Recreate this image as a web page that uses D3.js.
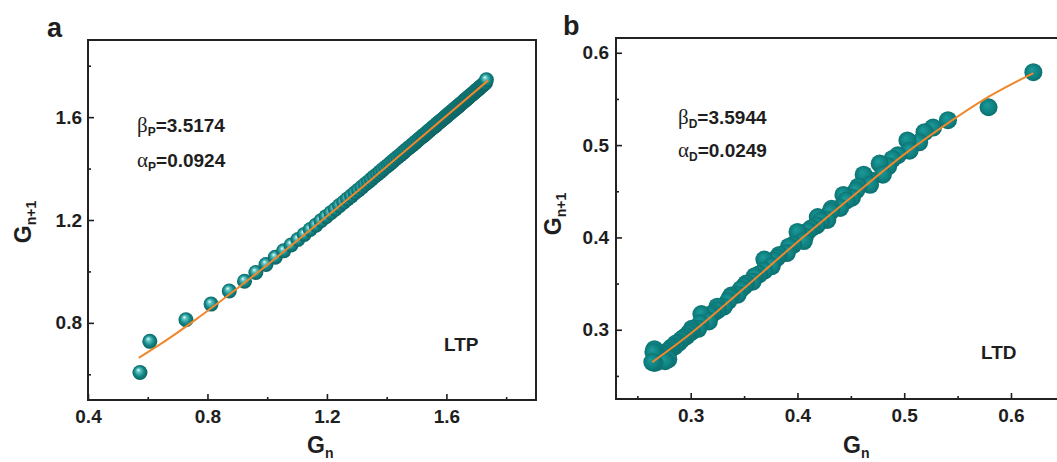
<!DOCTYPE html>
<html>
<head>
<meta charset="utf-8">
<script src="https://cdn.jsdelivr.net/npm/d3@7"></script>
<style>
  body { margin: 0; background: #fff; }
  text { font-family: "Liberation Sans", Arial, sans-serif; font-weight: bold; fill: #1e1e1e; }
</style>
</head>
<body>
<svg id="chart" width="1057" height="462"></svg>
<script>
// LTP conductance sequence: point n is (G[n], G[n+1])
const ltpG = [0.574, 0.607, 0.728, 0.812, 0.873, 0.924, 0.962, 0.996, 1.027, 1.055,
  1.080, 1.103, 1.124, 1.144, 1.163, 1.180, 1.197, 1.213, 1.228, 1.242,
  1.256, 1.269, 1.282, 1.294, 1.306, 1.317, 1.328, 1.339, 1.349, 1.359,
  1.369, 1.378, 1.387, 1.396, 1.405, 1.413, 1.421, 1.429, 1.437, 1.445,
  1.452, 1.459, 1.466, 1.473, 1.480, 1.486, 1.492, 1.498, 1.504, 1.510,
  1.516, 1.522, 1.527, 1.532, 1.537, 1.542, 1.547, 1.552, 1.557, 1.562,
  1.566, 1.570, 1.575, 1.579, 1.583, 1.587, 1.591, 1.595, 1.599, 1.603,
  1.607, 1.611, 1.614, 1.618, 1.621, 1.625, 1.628, 1.632, 1.635, 1.638,
  1.641, 1.644, 1.647, 1.650, 1.653, 1.656, 1.659, 1.662, 1.665, 1.668,
  1.671, 1.674, 1.677, 1.680, 1.683, 1.686, 1.689, 1.692, 1.695, 1.698,
  1.701, 1.704, 1.707, 1.710, 1.713, 1.716, 1.719, 1.722, 1.725, 1.728,
  1.731, 1.734, 1.745];
// LTD conductance sequence
const ltdG = [0.621, 0.579, 0.541, 0.527, 0.519, 0.514, 0.503, 0.505, 0.494, 0.489,
  0.485, 0.477, 0.480, 0.468, 0.462, 0.468, 0.457, 0.455, 0.451, 0.443,
  0.446, 0.440, 0.432, 0.431, 0.428, 0.419, 0.422, 0.418, 0.413, 0.410,
  0.407, 0.401, 0.400, 0.406, 0.396, 0.392, 0.390, 0.383, 0.381, 0.378,
  0.375, 0.369, 0.376, 0.369, 0.364, 0.360, 0.358, 0.352, 0.350, 0.347,
  0.344, 0.338, 0.337, 0.335, 0.331, 0.325, 0.325, 0.321, 0.318, 0.316,
  0.310, 0.317, 0.309, 0.307, 0.301, 0.301, 0.298, 0.296, 0.293, 0.291,
  0.289, 0.286, 0.285, 0.282, 0.281, 0.279, 0.277, 0.276, 0.274, 0.273,
  0.271, 0.270, 0.269, 0.268, 0.267, 0.266, 0.279, 0.268, 0.265, 0.276,
  0.266, 0.264, 0.265];

// fitted curves
const ltpFitX = [0.57, 0.65, 0.75, 0.85, 0.95, 1.10, 1.30, 1.50, 1.74];
const ltpFitY = [0.664, 0.723, 0.804, 0.890, 0.979, 1.119, 1.310, 1.506, 1.743];
const ltdFitX = [0.264, 0.30, 0.35, 0.40, 0.45, 0.50, 0.54, 0.58, 0.621];
const ltdFitY = [0.265, 0.296, 0.345, 0.395, 0.443, 0.490, 0.523, 0.553, 0.578];

const ltpTicksX = [0.4, 0.8, 1.2, 1.6], ltpMinorX = [0.6, 1.0, 1.4, 1.8];
const ltpTicksY = [0.8, 1.2, 1.6], ltpMinorY = [0.6, 1.0, 1.4, 1.8];
const ltdTicksX = [0.3, 0.4, 0.5, 0.6], ltdMinorX = [0.25, 0.35, 0.45, 0.55];
const ltdTicksY = [0.3, 0.4, 0.5, 0.6], ltdMinorY = [0.25, 0.35, 0.45, 0.55];

const svg = d3.select('#chart');
const defs = svg.append('defs');

let gA = defs.append('radialGradient').attr('id', 'ballA')
  .attr('cx', '50%').attr('cy', '50%').attr('r', '55%')
  .attr('fx', '38%').attr('fy', '32%');
gA.append('stop').attr('offset', '0%').attr('stop-color', '#f2ffff');
gA.append('stop').attr('offset', '22%').attr('stop-color', '#63c6c6');
gA.append('stop').attr('offset', '60%').attr('stop-color', '#138686');
gA.append('stop').attr('offset', '100%').attr('stop-color', '#0b5b5b');

let gB = defs.append('radialGradient').attr('id', 'ballB')
  .attr('cx', '50%').attr('cy', '50%').attr('r', '55%')
  .attr('fx', '40%').attr('fy', '36%');
gB.append('stop').attr('offset', '0%').attr('stop-color', '#1d9a9a');
gB.append('stop').attr('offset', '65%').attr('stop-color', '#0f8080');
gB.append('stop').attr('offset', '100%').attr('stop-color', '#0b6a6a');

function drawPanel(p) {
  let x = d3.scaleLinear().domain(p.xDomain).range([p.left, p.right]),
      y = d3.scaleLinear().domain(p.yDomain).range([p.bottom, p.top]);

  let g = svg.append('g');

  // balls
  let pts = p.G.slice(0, -1).map(function(v, i) { return [v, p.G[i + 1]]; });
  g.append('g').selectAll('circle')
    .data(pts)
    .enter().append('circle')
    .attr('cx', function(d) { return x(d[0]); })
    .attr('cy', function(d) { return y(d[1]); })
    .attr('r', p.r)
    .attr('fill', p.ball);

  // fit line
  let line = d3.line()
    .curve(d3.curveMonotoneX)
    .x(function(d) { return x(d[0]); })
    .y(function(d) { return y(d[1]); });
  g.append('path')
    .datum(p.fitX.map(function(v, i) { return [v, p.fitY[i]]; }))
    .attr('d', line)
    .attr('fill', 'none')
    .attr('stroke', '#f0872a')
    .attr('stroke-width', 2);

  // axes, ticks pointing in
  let xAxis = d3.axisBottom(x).tickValues(p.ticksX).tickFormat(d3.format('.1f'))
      .tickSizeInner(-6).tickSizeOuter(0).tickPadding(10),
      xMinor = d3.axisBottom(x).tickValues(p.minorX).tickFormat('')
      .tickSizeInner(-3).tickSizeOuter(0),
      yAxis = d3.axisLeft(y).tickValues(p.ticksY).tickFormat(d3.format('.1f'))
      .tickSizeInner(-6).tickSizeOuter(0).tickPadding(p.yPad),
      yMinor = d3.axisLeft(y).tickValues(p.minorY).tickFormat('')
      .tickSizeInner(-3).tickSizeOuter(0);

  [[xAxis, 'translate(0,' + p.bottom + ')'], [xMinor, 'translate(0,' + p.bottom + ')'],
   [yAxis, 'translate(' + p.left + ',0)'], [yMinor, 'translate(' + p.left + ',0)']]
    .forEach(function(a) {
      let ax = g.append('g').attr('transform', a[1]).call(a[0]);
      ax.select('.domain').remove();
      ax.selectAll('line').attr('stroke', '#1e1e1e').attr('stroke-width', 1.6);
      ax.selectAll('text').attr('font-size', 19).attr('fill', '#1e1e1e')
        .attr('font-family', '"Liberation Sans", Arial, sans-serif').attr('font-weight', 'bold');
    });

  // frame
  g.append('path')
    .attr('d', 'M' + p.left + ',' + p.bottom + 'V' + p.top + 'H' + p.right + 'V' + p.bottom + 'Z')
    .attr('fill', 'none').attr('stroke', '#222').attr('stroke-width', 2);

  // axis titles
  let xt = g.append('text').attr('x', p.xTitle[0]).attr('y', p.xTitle[1]).attr('font-size', 23);
  xt.append('tspan').text('G');
  xt.append('tspan').attr('font-size', 14).attr('dy', 5).text('n');

  let yt = g.append('text')
    .attr('transform', 'translate(' + p.yTitle[0] + ',' + p.yTitle[1] + ') rotate(-90)')
    .attr('text-anchor', 'middle').attr('font-size', 23);
  yt.append('tspan').text('G');
  yt.append('tspan').attr('font-size', 14).attr('dy', 5).text('n+1');

  // panel letter
  g.append('text').attr('x', p.letter[0]).attr('y', p.letter[1])
    .attr('font-size', 27).text(p.name);

  // fit parameters
  [[p.bName, p.bVal, p.ann[1]], [p.aName, p.aVal, p.ann[1] + p.annGap]].forEach(function(r) {
    let t = g.append('text').attr('x', p.ann[0]).attr('y', r[2]).attr('font-size', 19);
    t.append('tspan').attr('font-family', '"Liberation Serif", serif').attr('font-weight', 'normal')
      .attr('font-size', 21).text(r[0]);
    t.append('tspan').attr('font-size', 12).attr('dy', 4).text(p.sub);
    t.append('tspan').attr('dy', -4).text('=' + r[1]);
  });

  g.append('text').attr('x', p.tag[0]).attr('y', p.tag[1]).attr('font-size', 19).text(p.tagText);
}

drawPanel({
  name: 'a', G: ltpG, fitX: ltpFitX, fitY: ltpFitY,
  xDomain: [0.4, 1.9], yDomain: [0.5, 1.9],
  left: 88, right: 536, top: 40, bottom: 400,
  ticksX: ltpTicksX, minorX: ltpMinorX, ticksY: ltpTicksY, minorY: ltpMinorY,
  r: 7.5, ball: 'url(#ballA)', yPad: 6,
  xTitle: [307, 453], yTitle: [31, 222], letter: [47, 37],
  ann: [137, 132], annGap: 35, bName: 'β', aName: 'α', sub: 'P', bVal: '3.5174', aVal: '0.0924',
  tag: [444, 351], tagText: 'LTP'
});

drawPanel({
  name: 'b', G: ltdG, fitX: ltdFitX, fitY: ltdFitY,
  xDomain: [0.23, 0.645], yDomain: [0.225, 0.616],
  left: 616, right: 1059, top: 38, bottom: 399,
  ticksX: ltdTicksX, minorX: ltdMinorX, ticksY: ltdTicksY, minorY: ltdMinorY,
  r: 9, ball: 'url(#ballB)', yPad: 7,
  xTitle: [843, 453], yTitle: [561, 214], letter: [563, 35],
  ann: [678, 124], annGap: 33, bName: 'β', aName: 'α', sub: 'D', bVal: '3.5944', aVal: '0.0249',
  tag: [981, 359], tagText: 'LTD'
});
</script>
</body>
</html>
